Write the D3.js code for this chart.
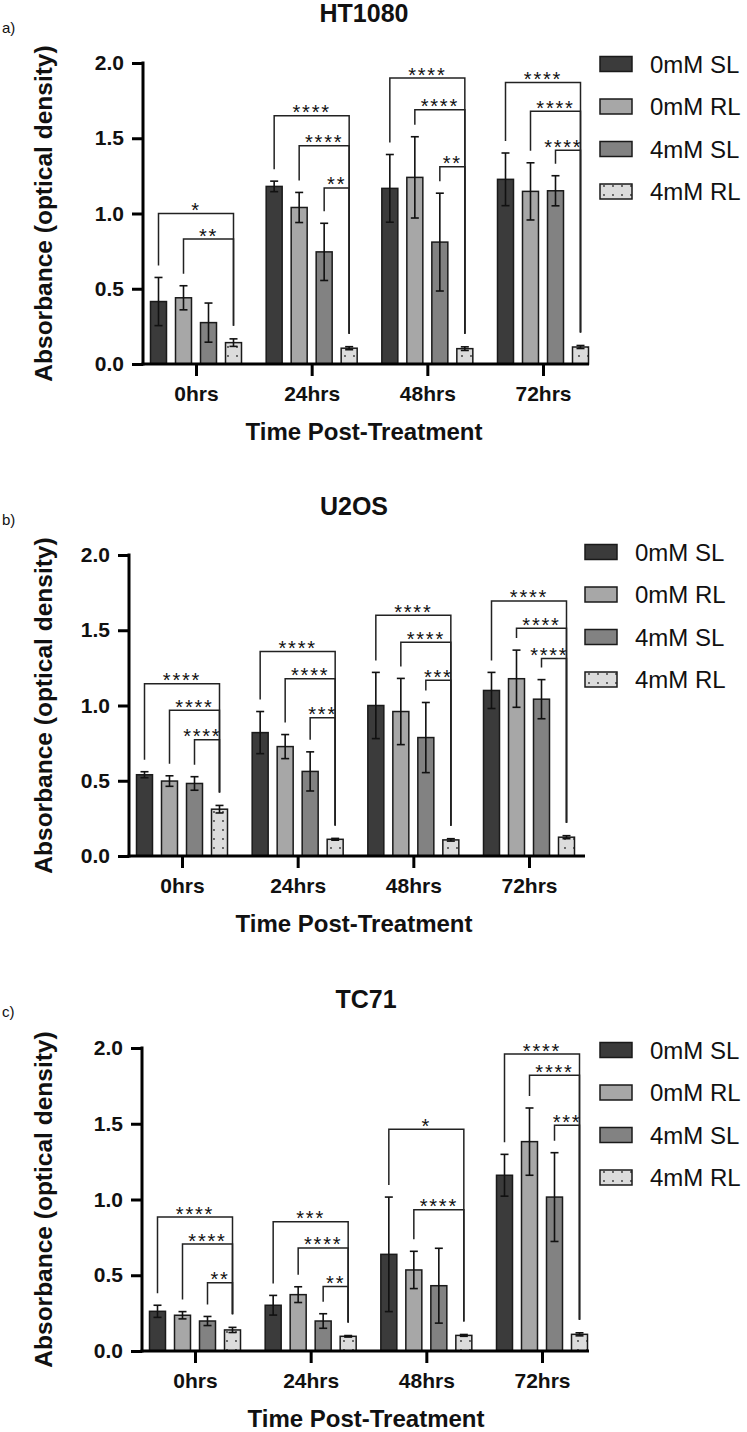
<!DOCTYPE html>
<html>
<head>
<meta charset="utf-8">
<script src="https://cdn.jsdelivr.net/npm/d3@7"></script>
<style>
  body { margin: 0; background: #fff; }
  svg text { font-family: "Liberation Sans", Arial, sans-serif; fill: #111; }
</style>
</head>
<body>
<svg id="chart" width="747" height="1432"></svg>
<script>
// categories
const times = ["0hrs", "24hrs", "48hrs", "72hrs"];
const series = ["0mM SL", "0mM RL", "4mM SL", "4mM RL"];
const yTicks = [0, 0.5, 1.0, 1.5, 2.0];

// means and error bars, [time][series]
const ht1080Mean = [[0.415, 0.44, 0.275, 0.142], [1.18, 1.04, 0.745, 0.105], [1.167, 1.24, 0.81, 0.102], [1.227, 1.147, 1.151, 0.113]];
const ht1080Err  = [[0.16, 0.08, 0.13, 0.025], [0.035, 0.1, 0.19, 0.01], [0.225, 0.27, 0.325, 0.012], [0.175, 0.19, 0.1, 0.01]];
const u2osMean = [[0.54, 0.498, 0.482, 0.311], [0.82, 0.727, 0.562, 0.111], [1.0, 0.96, 0.787, 0.107], [1.1, 1.178, 1.042, 0.125]];
const u2osErr  = [[0.02, 0.035, 0.045, 0.025], [0.14, 0.08, 0.13, 0.006], [0.22, 0.22, 0.233, 0.008], [0.12, 0.19, 0.13, 0.01]];
const tc71Mean = [[0.262, 0.236, 0.198, 0.139], [0.302, 0.372, 0.198, 0.097], [0.638, 0.535, 0.431, 0.103], [1.16, 1.382, 1.016, 0.11]];
const tc71Err  = [[0.04, 0.024, 0.03, 0.017], [0.065, 0.052, 0.048, 0.005], [0.378, 0.123, 0.247, 0.006], [0.138, 0.222, 0.293, 0.01]];

// significance: [time index, compared series index (vs 4mM RL), label, bracket level]
const ht1080Sig = [[0, 0, "*", 1.0], [0, 1, "**", 0.83],
  [1, 0, "****", 1.65], [1, 1, "****", 1.45], [1, 2, "**", 1.17],
  [2, 0, "****", 1.9], [2, 1, "****", 1.69], [2, 2, "**", 1.31],
  [3, 0, "****", 1.87], [3, 1, "****", 1.68], [3, 2, "****", 1.42]];
const u2osSig = [[0, 0, "****", 1.144], [0, 1, "****", 0.969], [0, 2, "****", 0.773],
  [1, 0, "****", 1.358], [1, 1, "****", 1.178], [1, 2, "***", 0.918],
  [2, 0, "****", 1.6], [2, 1, "****", 1.42], [2, 2, "***", 1.167],
  [3, 0, "****", 1.695], [3, 1, "****", 1.513], [3, 2, "****", 1.313]];
const tc71Sig = [[0, 0, "****", 0.884], [0, 1, "****", 0.706], [0, 2, "**", 0.451],
  [1, 0, "***", 0.853], [1, 1, "****", 0.68], [1, 2, "**", 0.425],
  [2, 0, "*", 1.463], [2, 1, "****", 0.933],
  [3, 0, "****", 1.96], [3, 1, "****", 1.82], [3, 2, "***", 1.49]];

const colors = ["#3b3b3b", "#a7a7a7", "#828282", "url(#dots)"];

const svg = d3.select("#chart");

// dotted fill for 4mM RL
const pat = svg.append("defs").append("pattern")
    .attr("id", "dots")
    .attr("patternUnits", "userSpaceOnUse")
    .attr("width", 9).attr("height", 9);
pat.append("rect").attr("width", 9).attr("height", 9).attr("fill", "#dcdcdc");
pat.append("circle").attr("cx", 4).attr("cy", 5).attr("r", 0.9).attr("fill", "#333");

function drawPanel(p) {
    let g = svg.append("g").attr("transform", "translate(" + p.ox + "," + (p.oy - p.h) + ")");

    let y = d3.scaleLinear().domain([0, 2]).range([p.h, 0]);
    let x = d3.scalePoint().domain(times).range([53, 400]);
    let xs = d3.scaleBand().domain(series).range([-50, 50]).paddingInner(0.36).paddingOuter(0.18);
    let cx = function (t, s) { return x(times[t]) + xs(series[s]) + xs.bandwidth() / 2; };

    // bars
    for (let t = 0; t < times.length; t++) {
        g.append("g").selectAll("rect")
            .data(p.mean[t])
            .enter().append("rect")
            .attr("x", function (d, i) { return x(times[t]) + xs(series[i]); })
            .attr("y", function (d) { return y(d); })
            .attr("width", xs.bandwidth())
            .attr("height", function (d) { return p.h - y(d); })
            .attr("fill", function (d, i) { return colors[i]; })
            .attr("stroke", "#1a1a1a")
            .attr("stroke-width", 1.5);

        // error bars
        let eb = g.append("g").attr("stroke", "#111").attr("stroke-width", 1.6);
        p.mean[t].forEach(function (m, i) {
            let e = p.err[t][i];
            let c = cx(t, i);
            eb.append("line").attr("x1", c).attr("x2", c).attr("y1", y(m - e)).attr("y2", y(m + e));
            eb.append("line").attr("x1", c - 4).attr("x2", c + 4).attr("y1", y(m - e)).attr("y2", y(m - e));
            eb.append("line").attr("x1", c - 4).attr("x2", c + 4).attr("y1", y(m + e)).attr("y2", y(m + e));
        });
    }

    // significance brackets
    let sg = g.append("g");
    p.sig.forEach(function (s) {
        let t = s[0], a = s[1], ly = y(s[3]);
        let x1 = cx(t, a), x2 = cx(t, 3);
        let endA = y(p.mean[t][a] + p.err[t][a]) - 12;
        let endB = y(p.mean[t][3] + p.err[t][3]) - 13;
        sg.append("path")
            .attr("d", "M" + x1 + "," + endA + "V" + ly + "H" + x2 + "V" + endB)
            .attr("fill", "none")
            .attr("stroke", "#222")
            .attr("stroke-width", 1.5);
        let tw = s[2].length * 9.6;
        let tx = Math.min((x1 + x2) / 2, x2 - tw / 2 + 2);
        sg.append("text")
            .attr("x", tx).attr("y", ly + 3.5)
            .attr("text-anchor", "middle")
            .style("font-size", "20px")
            .style("letter-spacing", "1.8px")
            .text(s[2]);
    });

    // y axis
    let ya = g.append("g")
        .call(d3.axisLeft(y).tickValues(yTicks).tickFormat(d3.format(".1f")).tickSize(11).tickSizeOuter(0).tickPadding(8));
    ya.select(".domain").remove();
    ya.selectAll(".tick line").attr("stroke", "#000").attr("stroke-width", 3);
    ya.selectAll("text").style("font-size", "21px").style("font-weight", "bold").attr("fill", "#111");
    g.append("line").attr("x1", 0).attr("x2", 0).attr("y1", -1.5).attr("y2", p.h + 1.5)
        .attr("stroke", "#000").attr("stroke-width", 3);

    // x axis
    let xa = g.append("g").attr("transform", "translate(0," + p.h + ")")
        .call(d3.axisBottom(x).tickSize(12).tickSizeOuter(0).tickPadding(10));
    xa.select(".domain").remove();
    xa.selectAll(".tick line").attr("stroke", "#000").attr("stroke-width", 3);
    xa.selectAll("text").style("font-size", "21px").style("font-weight", "bold").attr("fill", "#111");
    g.append("line").attr("x1", -1.5).attr("x2", p.len).attr("y1", p.h).attr("y2", p.h)
        .attr("stroke", "#000").attr("stroke-width", 3);

    // titles
    svg.append("text").attr("x", p.titleX).attr("y", p.titleY)
        .attr("text-anchor", "middle")
        .style("font-size", "25px").style("font-weight", "bold")
        .text(p.title);
    svg.append("text").attr("x", 2).attr("y", p.labelY)
        .style("font-size", "15px")
        .text(p.label);
    svg.append("text").attr("x", p.titleX).attr("y", p.oy + 76)
        .attr("text-anchor", "middle")
        .style("font-size", "24px").style("font-weight", "bold")
        .text("Time Post-Treatment");
    svg.append("text")
        .attr("transform", "translate(52," + (p.oy - p.h / 2) + ") rotate(-90)")
        .attr("text-anchor", "middle")
        .style("font-size", "24.5px").style("font-weight", "bold")
        .text("Absorbance (optical density)");

    // legend
    let lg = svg.append("g").attr("transform", "translate(" + p.legendX + "," + p.legendY + ")");
    series.forEach(function (s, i) {
        lg.append("rect")
            .attr("x", 0).attr("y", i * 42.5 - 7.5)
            .attr("width", 32).attr("height", 15)
            .attr("fill", colors[i])
            .attr("stroke", "#1a1a1a").attr("stroke-width", 1.5);
        lg.append("text")
            .attr("x", 50).attr("y", i * 42.5 + 8.5)
            .style("font-size", "24px")
            .text(s);
    });
}

drawPanel({ title: "HT1080", label: "a)", mean: ht1080Mean, err: ht1080Err, sig: ht1080Sig,
    ox: 143, oy: 364, h: 301, len: 446, titleX: 364, titleY: 22, labelY: 33, legendX: 600, legendY: 64 });
drawPanel({ title: "U2OS", label: "b)", mean: u2osMean, err: u2osErr, sig: u2osSig,
    ox: 129, oy: 856, h: 301, len: 456, titleX: 354, titleY: 515, labelY: 525, legendX: 585, legendY: 552 });
drawPanel({ title: "TC71", label: "c)", mean: tc71Mean, err: tc71Err, sig: tc71Sig,
    ox: 142, oy: 1351, h: 303, len: 447, titleX: 366, titleY: 1008, labelY: 1017, legendX: 600, legendY: 1050 });
</script>
</body>
</html>
